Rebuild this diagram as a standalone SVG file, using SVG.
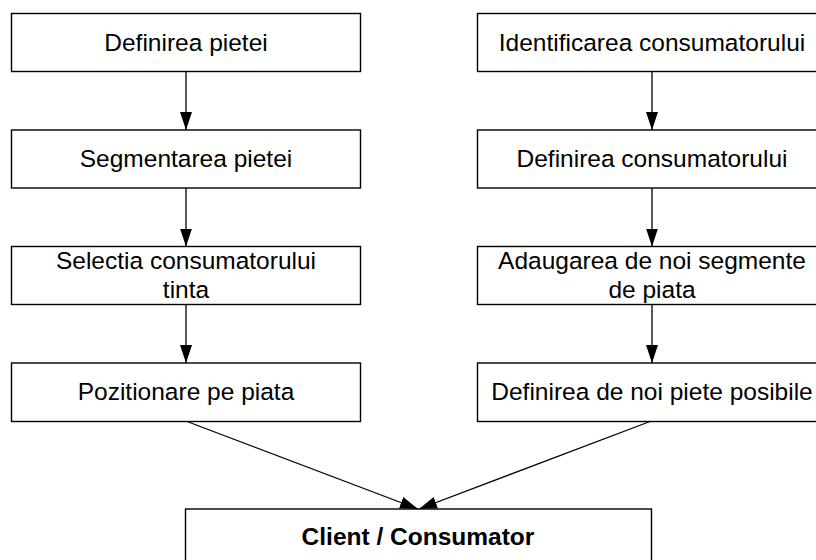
<svg xmlns="http://www.w3.org/2000/svg" width="816" height="560" viewBox="0 0 816 560">
<style>
.box{fill:#fff;stroke:#000;stroke-width:1.4}
.t{font-family:"Liberation Sans",Arial,sans-serif;font-size:24.5px;fill:#000;text-anchor:middle}
.b{font-weight:bold}
.c{stroke:#000;stroke-width:1.3;fill:none;marker-end:url(#ah)}
</style>
<defs>
<marker id="ah" markerUnits="userSpaceOnUse" markerWidth="18" markerHeight="12" refX="18" refY="6" orient="auto" viewBox="0 0 18 12">
<path d="M0,0 L18,6 L0,12 z" fill="#000"/>
</marker>
</defs>
<rect width="816" height="560" fill="#fff"/>
<g id="connectors">
<line class="c" x1="186" y1="71.5" x2="186" y2="130"/>
<line class="c" x1="186" y1="188" x2="186" y2="246.5"/>
<line class="c" x1="186" y1="304.5" x2="186" y2="363"/>
<line class="c" x1="652" y1="71.5" x2="652" y2="130"/>
<line class="c" x1="652" y1="188" x2="652" y2="246.5"/>
<line class="c" x1="652" y1="304.5" x2="652" y2="363"/>
<line class="c" x1="187" y1="421.5" x2="418" y2="509"/>
<line class="c" x1="650" y1="421.5" x2="419" y2="509"/>
</g>
<g id="n1"><rect class="box" x="11.5" y="13.5" width="349" height="58"/><text class="t" x="186" y="51">Definirea pietei</text></g>
<g id="n2"><rect class="box" x="11.5" y="130" width="349" height="58"/><text class="t" x="186" y="167">Segmentarea pietei</text></g>
<g id="n3"><rect class="box" x="11.5" y="246.5" width="349" height="58"/><text class="t" x="186" y="268.5">Selectia consumatorului</text><text class="t" x="186" y="297.5">tinta</text></g>
<g id="n4"><rect class="box" x="11.5" y="363" width="349" height="58.5"/><text class="t" x="186" y="400">Pozitionare pe piata</text></g>
<g id="m1"><rect class="box" x="477.5" y="13.5" width="350" height="58"/><text class="t" x="652" y="51">Identificarea consumatorului</text></g>
<g id="m2"><rect class="box" x="477.5" y="130" width="350" height="58"/><text class="t" x="652" y="167">Definirea consumatorului</text></g>
<g id="m3"><rect class="box" x="477.5" y="246.5" width="350" height="58"/><text class="t" x="652" y="268.5">Adaugarea de noi segmente</text><text class="t" x="652" y="297.5">de piata</text></g>
<g id="m4"><rect class="box" x="477.5" y="363" width="350" height="58.5"/><text class="t" x="652" y="400">Definirea de noi piete posibile</text></g>
<g id="client"><rect class="box" x="185.5" y="509" width="466" height="70"/><text class="t b" x="418" y="545">Client / Consumator</text></g>
</svg>
